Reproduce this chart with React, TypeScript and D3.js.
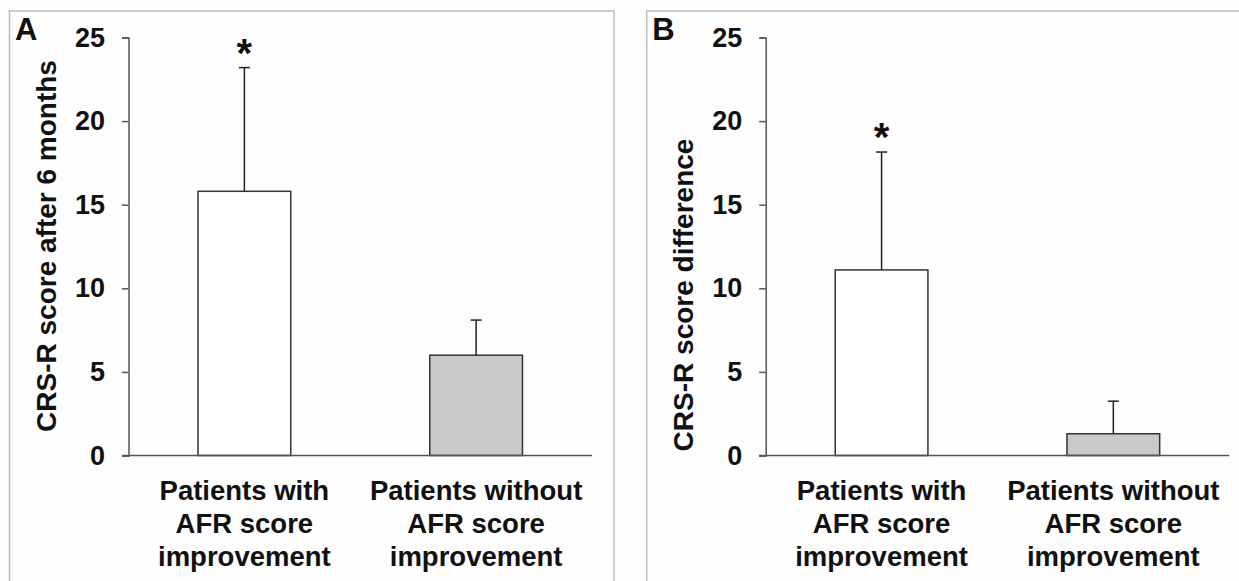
import React, { useEffect, useRef } from 'react';
import * as d3 from 'd3';

const categoryLines = [
  ['Patients with', 'AFR score', 'improvement'],
  ['Patients without', 'AFR score', 'improvement'],
];
const scoreAfter6Months = [15.8, 6.0];
const scoreAfter6MonthsErr = [7.4, 2.1];
const scoreDifference = [11.1, 1.3];
const scoreDifferenceErr = [7.05, 1.95];
const significant = [true, false];
const yTicks = [0, 5, 10, 15, 20, 25];
const barFills = ['#ffffff', '#c9c9c9'];

const FONT = '"Liberation Sans", Arial, Helvetica, sans-serif';

function drawPanel(svg, opts) {
  const { ox, letter, title, values, errs } = opts;
  const top = 37.5;
  const bottom = 455.5;
  const left = ox + 128.5;
  const right = ox + 592;

  const g = svg.append('g');

  // panel frame
  g.append('rect')
    .attr('x', ox + 9.5)
    .attr('y', 11)
    .attr('width', 604.5)
    .attr('height', 620)
    .attr('fill', 'none')
    .attr('stroke', '#bdbdbd')
    .attr('stroke-width', 1.5);

  const x = d3.scaleBand()
    .domain(d3.range(values.length))
    .range([left, right])
    .paddingInner(0.6)
    .paddingOuter(0.3);

  const y = d3.scaleLinear().domain([0, 25]).range([bottom, top]);

  // y axis
  const yAxis = g.append('g')
    .attr('transform', `translate(${left},0)`)
    .call(d3.axisLeft(y).tickValues(yTicks).tickSize(6.5).tickPadding(17));
  yAxis.select('.domain').attr('stroke', '#555').attr('stroke-width', 1.5);
  yAxis.selectAll('.tick line').attr('stroke', '#555').attr('stroke-width', 1.5);
  yAxis.selectAll('.tick text')
    .attr('fill', '#111')
    .style('font-family', FONT)
    .style('font-size', '27px')
    .style('font-weight', 'bold');

  // bars
  g.selectAll('.bar')
    .data(values)
    .enter()
    .append('rect')
    .attr('x', (d, i) => x(i))
    .attr('width', x.bandwidth())
    .attr('y', (d) => y(d))
    .attr('height', (d) => bottom - y(d))
    .attr('fill', (d, i) => barFills[i])
    .attr('stroke', '#333')
    .attr('stroke-width', 1.5);

  // error bars (upper only)
  values.forEach((v, i) => {
    const cx = x(i) + x.bandwidth() / 2;
    const yt = y(v + errs[i]);
    g.append('line')
      .attr('x1', cx).attr('x2', cx)
      .attr('y1', y(v)).attr('y2', yt)
      .attr('stroke', '#222').attr('stroke-width', 1.5);
    g.append('line')
      .attr('x1', cx - 5.5).attr('x2', cx + 5.5)
      .attr('y1', yt).attr('y2', yt)
      .attr('stroke', '#222').attr('stroke-width', 1.5);
    if (significant[i]) {
      g.append('text')
        .attr('x', cx)
        .attr('y', yt - 1)
        .attr('text-anchor', 'middle')
        .style('font-family', FONT)
        .style('font-size', '40px')
        .style('font-weight', 'bold')
        .attr('fill', '#111')
        .text('*');
    }
  });

  // x axis line
  g.append('line')
    .attr('x1', left - 6.5).attr('x2', right)
    .attr('y1', bottom).attr('y2', bottom)
    .attr('stroke', '#555').attr('stroke-width', 1.5);

  // category labels
  categoryLines.forEach((lines, i) => {
    const cx = x(i) + x.bandwidth() / 2;
    const t = g.append('text')
      .attr('text-anchor', 'middle')
      .style('font-family', FONT)
      .style('font-size', '27.5px')
      .style('font-weight', 'bold')
      .attr('fill', '#111');
    lines.forEach((ln, k) => {
      t.append('tspan').attr('x', cx).attr('y', 500 + k * 33).text(ln);
    });
  });

  // y title
  g.append('text')
    .attr('transform', `translate(${ox + 56},${opts.titleY}) rotate(-90)`)
    .attr('text-anchor', 'middle')
    .style('font-family', FONT)
    .style('font-size', '28px')
    .style('font-weight', 'bold')
    .attr('fill', '#111')
    .text(title);

  // panel letter
  g.append('text')
    .attr('x', ox + 15)
    .attr('y', 40)
    .style('font-family', FONT)
    .style('font-size', '31px')
    .style('font-weight', 'bold')
    .attr('fill', '#111')
    .text(letter);
}

export default function App() {
  const svgRef = useRef(null);

  useEffect(() => {
    const svg = d3.select(svgRef.current);
    svg.selectAll('*').remove();

    svg.append('rect').attr('width', 1239).attr('height', 581).attr('fill', '#fdfdfd');

    drawPanel(svg, {
      ox: 0,
      letter: 'A',
      title: 'CRS-R score after 6 months',
      titleY: 246,
      values: scoreAfter6Months,
      errs: scoreAfter6MonthsErr,
    });
    drawPanel(svg, {
      ox: 637.2,
      letter: 'B',
      title: 'CRS-R score difference',
      titleY: 295,
      values: scoreDifference,
      errs: scoreDifferenceErr,
    });
  }, []);

  return (
    <svg
      ref={svgRef}
      width={1239}
      height={581}
      style={{ position: 'absolute', left: 0, top: 0 }}
    ></svg>
  );
}
